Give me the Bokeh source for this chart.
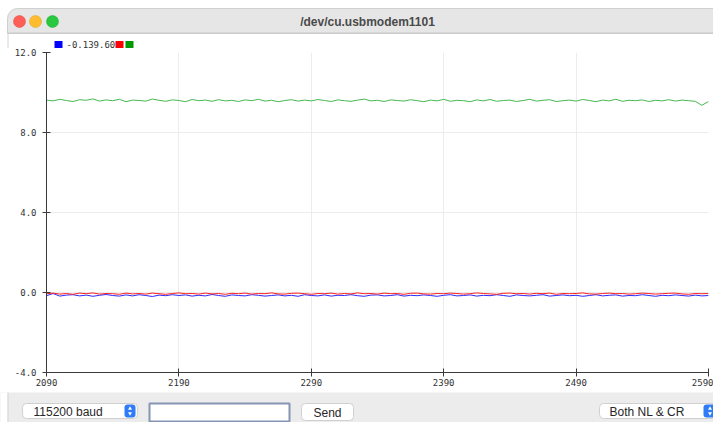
from bokeh.plotting import figure
from bokeh.layouts import column, row
from bokeh.models import Range1d, FixedTicker, PrintfTickFormatter
from bokeh.embed import file_html
from bokeh.resources import INLINE
from bokeh.core.properties import value

# ---------------- data ----------------
x_start = 2090
x_step = 5
x_ticks = [2090, 2190, 2290, 2390, 2490, 2590]
y_ticks = [-4.0, 0.0, 4.0, 8.0, 12.0]
legend_text = "-0.139.60"
legend_colors = ["#0000ff", "#ff0000", "#009a00"]
window_title = "/dev/cu.usbmodem1101"

blue = [-0.16, -0.05, -0.18, -0.13, -0.11, -0.17, -0.13, -0.19, -0.14, -0.10,
        -0.15, -0.18, -0.12, -0.17, -0.11, -0.15, -0.20, -0.13, -0.16, -0.11,
        -0.15, -0.12, -0.18, -0.14, -0.17, -0.10, -0.15, -0.19, -0.12, -0.15,
        -0.17, -0.11, -0.14, -0.18, -0.15, -0.12, -0.17, -0.14, -0.19, -0.11,
        -0.15, -0.17, -0.12, -0.18, -0.14, -0.15, -0.11, -0.16, -0.19, -0.13,
        -0.12, -0.17, -0.15, -0.11, -0.18, -0.14, -0.16, -0.12, -0.15, -0.19,
        -0.14, -0.11, -0.17, -0.15, -0.12, -0.18, -0.14, -0.16, -0.11, -0.15,
        -0.19, -0.12, -0.15, -0.17, -0.14, -0.11, -0.18, -0.15, -0.12, -0.16,
        -0.14, -0.19, -0.15, -0.11, -0.17, -0.14, -0.12, -0.18, -0.15, -0.16,
        -0.11, -0.15, -0.19, -0.14, -0.16, -0.12, -0.15, -0.18, -0.13, -0.17, -0.15]

red = [-0.06, -0.03, -0.08, -0.05, -0.09, -0.03, -0.06, -0.02, -0.08, -0.05,
       -0.06, -0.09, -0.03, -0.07, -0.05, -0.08, -0.03, -0.06, -0.09, -0.05,
       -0.02, -0.06, -0.05, -0.08, -0.03, -0.07, -0.05, -0.09, -0.04, -0.06,
       -0.03, -0.08, -0.05, -0.06, -0.02, -0.07, -0.08, -0.04, -0.03, -0.06,
       -0.09, -0.05, -0.06, -0.03, -0.08, -0.05, -0.07, -0.02, -0.06, -0.05,
       -0.08, -0.03, -0.06, -0.05, -0.09, -0.04, -0.03, -0.07, -0.08, -0.05,
       -0.06, -0.03, -0.05, -0.08, -0.06, -0.02, -0.05, -0.07, -0.09, -0.04,
       -0.03, -0.06, -0.05, -0.08, -0.04, -0.06, -0.03, -0.09, -0.05, -0.06,
       -0.05, -0.02, -0.07, -0.08, -0.05, -0.03, -0.06, -0.05, -0.08, -0.06,
       -0.03, -0.05, -0.08, -0.06, -0.04, -0.03, -0.07, -0.09, -0.05, -0.06, -0.05]

green = [9.62, 9.58, 9.66, 9.60, 9.55, 9.64, 9.61, 9.68, 9.57, 9.63,
         9.59, 9.66, 9.54, 9.62, 9.60, 9.57, 9.67, 9.61, 9.56, 9.63,
         9.60, 9.54, 9.65, 9.59, 9.62, 9.56, 9.64, 9.58, 9.61, 9.55,
         9.63, 9.59, 9.66, 9.57, 9.61, 9.54, 9.60, 9.64, 9.57, 9.62,
         9.58, 9.65, 9.60, 9.55, 9.63, 9.59, 9.56, 9.62, 9.67, 9.58,
         9.61, 9.55, 9.63, 9.60, 9.57, 9.64, 9.59, 9.54, 9.62, 9.58,
         9.66, 9.56, 9.61, 9.59, 9.54, 9.63, 9.58, 9.65, 9.56, 9.60,
         9.62, 9.55, 9.60, 9.66, 9.57, 9.61, 9.64, 9.55, 9.59, 9.62,
         9.57, 9.65, 9.60, 9.54, 9.62, 9.58, 9.66, 9.56, 9.61, 9.59,
         9.63, 9.55, 9.61, 9.58, 9.64, 9.57, 9.62, 9.59, 9.56, 9.36, 9.55]

xs = [x_start + i * x_step for i in range(len(green))]

W = 713
BAR_GRAY = "#e6e6e6"
UI_FONT = value("Liberation Sans")


def chrome_fig(h, y0, y1, bg):
    f = figure(width=W, height=h, x_range=Range1d(0, W), y_range=Range1d(y1, y0),
               output_backend="svg", toolbar_location=None, tools="",
               x_axis_location=None, y_axis_location=None, min_border=0,
               min_border_left=0, min_border_right=0, min_border_top=0, min_border_bottom=0,
               title=None)
    f.grid.visible = False
    f.outline_line_color = None
    f.background_fill_color = bg
    f.border_fill_color = bg
    return f


# ---------------- title bar + legend strip ----------------
top = chrome_fig(48, 0, 48, "white")
top.quad(left=[7], right=[730], top=[8], bottom=[33], fill_color=BAR_GRAY,
         line_color="#cfcfcf", line_width=1, border_radius=(10, 0, 0, 0))
top.segment(x0=[7], y0=[32.5], x1=[713], y1=[32.5], line_color="#c8c8c8", line_width=1)
top.segment(x0=[7.5], y0=[33], x1=[7.5], y1=[48], line_color="#d4d4d4", line_width=1)
top.circle(x=[19, 35, 52], y=[21, 21, 21], radius=6,
           fill_color=["#fe5f57", "#febc2e", "#28c840"],
           line_color=["#e0443e", "#dea123", "#1aab29"], line_width=0.5)
top.text(x=[367], y=[21], text=[window_title], text_align="center", text_baseline="middle",
         text_font=UI_FONT, text_font_size="12px", text_font_style="bold", text_color="#4a4a4a")
# legend strip (Arduino serial plotter style)
top.quad(left=[54, 115, 125], right=[62, 123, 133], top=[40.5, 40.5, 40.5], bottom=[48.5, 48.5, 48.5],
         fill_color=legend_colors, line_color=None)
top.text(x=[66], y=[43.5], text=[legend_text], text_align="left", text_baseline="middle",
         text_font=value("DejaVu Sans Mono"), text_font_size="9px", text_color="#333333")

# ---------------- plot ----------------
p = figure(width=W, height=344, x_range=Range1d(2090, 2590), y_range=Range1d(-4, 12),
           output_backend="svg", toolbar_location=None, tools="", title=None,
           min_border_left=46, min_border_right=5, min_border_top=4, min_border_bottom=20)
p.outline_line_color = None
p.background_fill_color = "white"
p.border_fill_color = "white"
p.xaxis.ticker = FixedTicker(ticks=x_ticks)
p.yaxis.ticker = FixedTicker(ticks=y_ticks)
p.xaxis.formatter = PrintfTickFormatter(format="%d")
p.yaxis.formatter = PrintfTickFormatter(format="%.1f")
p.axis.major_tick_in = 4
p.axis.major_tick_out = 4
p.axis.minor_tick_line_color = None
p.axis.axis_line_color = "#3a3a3a"
p.axis.major_tick_line_color = "#3a3a3a"
p.axis.major_label_text_font = "DejaVu Sans Mono"
p.axis.major_label_text_font_size = "9px"
p.axis.major_label_text_color = "#333333"
p.yaxis.major_label_standoff = 6
p.xaxis.major_label_standoff = 2
p.grid.grid_line_color = "#ececec"

p.line(xs, blue, line_color="#2b2bff", line_width=1)
p.line(xs, red, line_color="#ff2020", line_width=1)
p.line(xs, green, line_color="#45b850", line_width=1)

# ---------------- bottom bar ----------------
bot = chrome_fig(30, 392, 422, "#ececec")
bot.quad(left=[0], right=[7], top=[392], bottom=[422], fill_color="white", line_color=None)
bot.segment(x0=[7.5], y0=[392], x1=[7.5], y1=[422], line_color="#d4d4d4", line_width=1)
bot.quad(left=[22, 301, 599], right=[137, 353, 718], top=[403, 403, 403], bottom=[418, 420, 418],
         fill_color="white", line_color="#d0d0d0", line_width=1, border_radius=4)
bot.quad(left=[149], right=[289], top=[403], bottom=[421], fill_color="white",
         line_color="#8595b3", line_width=2)
bot.quad(left=[124, 703], right=[135, 716], top=[404, 404], bottom=[417, 417],
         fill_color="#2f7cf6", line_color=None, border_radius=3)
bot.scatter(x=[129.5, 709.5], y=[408, 408], marker="triangle", size=4, fill_color="white", line_color=None)
bot.scatter(x=[129.5, 709.5], y=[413, 413], marker="inverted_triangle", size=4, fill_color="white", line_color=None)
bot.text(x=[33, 609], y=[411, 411], text=["115200 baud", "Both NL & CR"], text_align="left",
         text_baseline="middle", text_font=UI_FONT, text_font_size="12px", text_color="#262626")
bot.text(x=[327], y=[412], text=["Send"], text_align="center", text_baseline="middle",
         text_font=UI_FONT, text_font_size="12px", text_color="#262626")

layout = column(row(top), p, row(bot), spacing=0)
open("out.html", "w").write(file_html(layout, INLINE))
